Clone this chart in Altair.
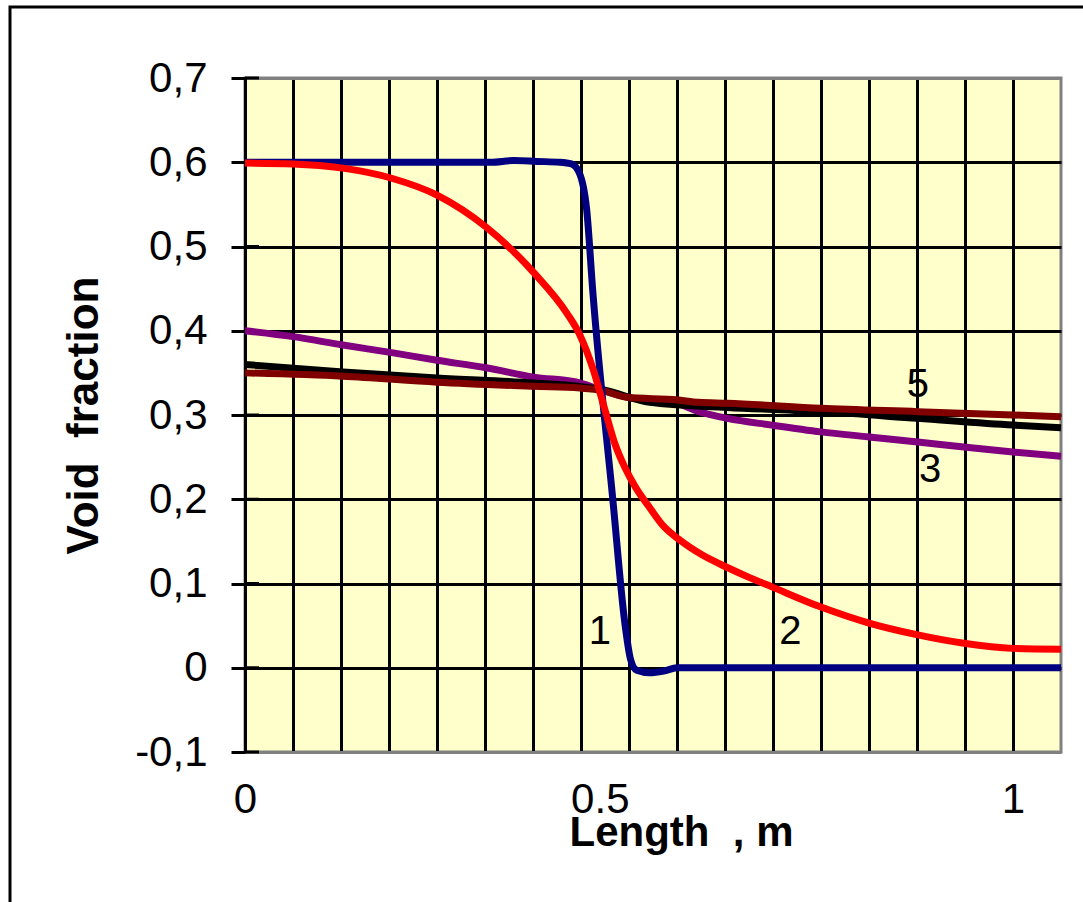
import altair as alt
import pandas as pd

# ---- data ----
x1 = [0, 0.1, 0.2, 0.3, 0.32, 0.35, 0.38, 0.41, 0.425, 0.435, 0.445, 0.453, 0.479, 0.495, 0.502, 0.51, 0.527, 0.545, 0.5625, 0.7, 0.9, 1.0625]
y1 = [0.6, 0.6, 0.6, 0.6, 0.6, 0.602, 0.601, 0.6, 0.598, 0.588, 0.543, 0.445, 0.199, 0.05, 0.01, -0.003, -0.006, -0.004, 0.0, 0.0, 0.0, 0.0]

x2 = [0, 0.0625, 0.1276, 0.191, 0.25, 0.314, 0.376, 0.419, 0.436, 0.453, 0.469, 0.482, 0.495, 0.508, 0.527, 0.545, 0.564, 0.595, 0.628, 0.657, 0.686, 0.75, 0.8125, 0.876, 0.936, 1.0, 1.0625]
y2 = [0.599, 0.598, 0.593, 0.581, 0.561, 0.523, 0.469, 0.421, 0.395, 0.355, 0.305, 0.265, 0.237, 0.215, 0.190, 0.168, 0.153, 0.134, 0.119, 0.107, 0.096, 0.072, 0.053, 0.039, 0.029, 0.023, 0.022]

x3 = [0, 0.0625, 0.1276, 0.191, 0.25, 0.314, 0.376, 0.436, 0.462, 0.498, 0.561, 0.591, 0.628, 0.686, 0.75, 0.8125, 0.876, 0.936, 1.0, 1.0625]
y3 = [0.400, 0.393, 0.383, 0.374, 0.365, 0.356, 0.345, 0.338, 0.330, 0.321, 0.314, 0.304, 0.296, 0.288, 0.280, 0.274, 0.268, 0.262, 0.256, 0.251]

x4 = [0, 0.1276, 0.25, 0.376, 0.436, 0.466, 0.527, 0.628, 0.75, 0.876, 1.0, 1.0625]
y4 = [0.360, 0.351, 0.344, 0.338, 0.334, 0.330, 0.315, 0.309, 0.304, 0.296, 0.288, 0.285]

x5 = [0, 0.1276, 0.25, 0.376, 0.436, 0.466, 0.497, 0.562, 0.591, 0.628, 0.75, 0.876, 1.0, 1.0625]
y5 = [0.350, 0.346, 0.339, 0.334, 0.332, 0.329, 0.321, 0.318, 0.315, 0.314, 0.308, 0.304, 0.300, 0.298]

series_x = {"1": x1, "2": x2, "3": x3, "4": x4, "5": x5}
series_y = {"1": y1, "2": y2, "3": y3, "4": y4, "5": y5}
series_color = {"1": "#000080", "2": "#FF0000", "3": "#800080", "4": "#000000", "5": "#800000"}
draw_order = ["3", "4", "5", "1", "2"]

label_text = ["1", "2", "3", "5"]
label_x = [0.462, 0.71, 0.892, 0.876]
label_y = [0.042, 0.042, 0.235, 0.336]

y_ticks = [-0.1, 0.0, 0.1, 0.2, 0.3, 0.4, 0.5, 0.6, 0.7]
x_grid = [0, 0.0625, 0.125, 0.1875, 0.25, 0.3125, 0.375, 0.4375, 0.5,
          0.5625, 0.625, 0.6875, 0.75, 0.8125, 0.875, 0.9375, 1.0]

FONT = "Liberation Sans"

xscale = alt.Scale(domain=[0, 1.0625], nice=False, zero=False)
yscale = alt.Scale(domain=[-0.1, 0.7], nice=False, zero=False)

x_axis = alt.Axis(
    values=x_grid, title="Length \u00a0, m", domain=False, tickSize=0, ticks=False,
    grid=True, gridColor="black", gridWidth=3,
    labelExpr="(datum.value == 0 || datum.value == 0.5 || datum.value == 1) ? format(datum.value, '~g') : ''",
    labelFont=FONT, labelFontSize=42, labelColor="black", labelPadding=27,
    labelFlush=False, labelOverlap=False,
    labelAlign={"condition": {"test": "datum.value == 0.5", "value": "right"}, "value": "center"},
    titleFont=FONT, titleFontSize=42, titleFontWeight="bold", titleColor="black",
    titleX=436, titleY=93, titleBaseline="alphabetic", titleAlign="center",
)

y_axis = alt.Axis(
    values=y_ticks, title="Void \u00a0fraction",
    domain=True, domainColor="black", domainWidth=3,
    ticks=True, tickSize=14, tickColor="black", tickWidth=3,
    grid=True, gridWidth=3,
    gridColor={"condition": {"test": "datum.value < -0.05 || datum.value > 0.65", "value": "#808080"}, "value": "black"},
    labelExpr="replace(replace(format(datum.value, '.1~f'), '.', ','), '\u2212', '-')",
    labelFont=FONT, labelFontSize=42, labelColor="black", labelPadding=24, labelOverlap=False,
    titleFont=FONT, titleFontSize=44, titleFontWeight="bold", titleColor="black",
    titleAngle=270, titleX=-148, titleY=337, titleBaseline="alphabetic", titleAlign="center",
)

layers = []

axis_df = pd.DataFrame({"x": [0.0], "y": [0.0]})
base = alt.Chart(axis_df).mark_point(opacity=0).encode(
    x=alt.X("x:Q", scale=xscale, axis=x_axis),
    y=alt.Y("y:Q", scale=yscale, axis=y_axis),
)
layers.append(base)

tick_df = pd.DataFrame({"y": y_ticks})
inner_ticks = alt.Chart(tick_df).mark_rule(color="black", strokeWidth=3).encode(
    y=alt.Y("y:Q", scale=yscale), x=alt.value(0), x2=alt.value(14)
)
layers.append(inner_ticks)

for s in draw_order:
    df = pd.DataFrame({"x": series_x[s], "y": series_y[s]})
    layers.append(
        alt.Chart(df).mark_line(color=series_color[s], strokeWidth=7, interpolate="monotone").encode(
            x=alt.X("x:Q", scale=xscale), y=alt.Y("y:Q", scale=yscale)
        )
    )

lab_df = pd.DataFrame({"t": label_text, "x": label_x, "y": label_y})
layers.append(
    alt.Chart(lab_df).mark_text(font=FONT, fontSize=40, color="black", align="center", baseline="middle").encode(
        x=alt.X("x:Q", scale=xscale), y=alt.Y("y:Q", scale=yscale), text="t:N"
    )
)

frame = alt.Chart(alt.Data(values=[{"a": 1}])).mark_rect(filled=False, stroke="black", strokeWidth=3).encode(
    x=alt.value(-235), x2=alt.value(860), y=alt.value(-71), y2=alt.value(846)
)
layers.append(frame)

chart = alt.layer(*layers).properties(
    width=816, height=674,
    autosize=alt.AutoSizeParams(type="none"),
    padding={"left": 245, "top": 78, "right": 22, "bottom": 150},
    background="white",
).configure_view(
    fill="#FFFFCC", stroke="#808080", strokeWidth=3
)

chart.save("out.html", embed_options={"renderer": "svg", "actions": False})
